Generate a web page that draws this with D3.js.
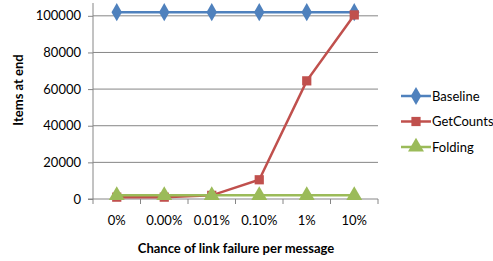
<!DOCTYPE html>
<html><head><meta charset="utf-8">
<script src="https://cdn.jsdelivr.net/npm/d3@7"></script>
<style>body{margin:0;background:#fff}svg{display:block}text{font-family:Lato,"Open Sans",sans-serif}</style>
</head><body><svg id="c" width="493" height="261"></svg>
<script>
const categories = ["0%","0.00%","0.01%","0.10%","1%","10%"];
const baseline = [102000,102000,102000,102000,102000,102000];
const getCounts = [1000,1000,2000,10500,64500,100500];
const folding = [2000,2000,2000,2000,2000,2000];
const yTicks = [0,20000,40000,60000,80000,100000];
const seriesNames = ["Baseline","GetCounts","Folding"];
const colors = ["#4F81BD","#C0504D","#9BBB59"];
const symbols = [d3.symbolDiamond, d3.symbolSquare, d3.symbolTriangle];
const seriesData = [baseline,getCounts,folding];

const svg = d3.select("#c");
const L=93,R=378,T=3,B=199;
const FS=13;
const x = d3.scaleBand().domain(categories).range([L,R]);
const y = d3.scaleLinear().domain([0,107000]).range([B,T]);

svg.append("g").selectAll("line").data(yTicks.slice(1)).join("line")
 .attr("x1",L).attr("x2",R).attr("y1",d=>y(d)).attr("y2",d=>y(d))
 .attr("stroke","#868686").attr("stroke-width",1);

const ya = svg.append("g").attr("transform",`translate(${L},0)`)
 .call(d3.axisLeft(y).tickValues(yTicks).tickSize(5).tickFormat(d3.format("d")));
ya.select(".domain").attr("stroke","#868686").attr("d",`M-5,${B}H0V${T}`);
ya.selectAll(".tick line").attr("stroke","#868686");
ya.selectAll(".tick text").attr("font-size",FS).attr("fill","#000").attr("x",-12).attr("font-family","Lato, 'Open Sans', sans-serif");

const xa = svg.append("g").attr("transform",`translate(0,${B})`)
 .call(d3.axisBottom(x).tickSize(0).tickPadding(17));
xa.select(".domain").attr("stroke","#868686").attr("d",`M${L},0H${R}`);
xa.selectAll(".tick text").attr("font-size",FS).attr("fill","#000").attr("font-family","Lato, 'Open Sans', sans-serif");
const bounds = d3.range(categories.length+1).map(i=>L+i*x.step());
svg.append("g").selectAll("line").data(bounds).join("line")
 .attr("x1",d=>d).attr("x2",d=>d).attr("y1",B).attr("y2",B+5).attr("stroke","#868686");

const cx = d=>x(d)+x.bandwidth()/2;
const line = d3.line().x((d,i)=>cx(categories[i])).y(d=>y(d));
const sizes=[95,85,110];
seriesData.forEach((s,k)=>{
  svg.append("path").datum(s).attr("d",line).attr("fill","none").attr("stroke",colors[k]).attr("stroke-width",2.5);
  svg.append("g").selectAll("path").data(s).join("path")
   .attr("transform",(d,i)=>`translate(${cx(categories[i])},${y(d)})`)
   .attr("d",d3.symbol().type(symbols[k]).size(sizes[k])).attr("fill",colors[k]);
});

const lg = svg.append("g");
seriesNames.forEach((n,k)=>{
  const yy = 96 + k*25.5;
  lg.append("line").attr("x1",401).attr("x2",431).attr("y1",yy).attr("y2",yy).attr("stroke",colors[k]).attr("stroke-width",2.5);
  lg.append("path").attr("transform",`translate(416,${yy})`).attr("d",d3.symbol().type(symbols[k]).size(sizes[k])).attr("fill",colors[k]);
  lg.append("text").attr("x",432).attr("y",yy).attr("dy","0.35em").attr("font-size",FS).text(n);
});

svg.append("text").attr("transform","translate(23,90) rotate(-90)").attr("text-anchor","middle")
 .attr("font-size",FS).attr("font-weight","bold").text("Items at end");
svg.append("text").attr("x",236).attr("y",253).attr("text-anchor","middle")
 .attr("font-size",FS).attr("font-weight","bold").text("Chance of link failure per message");
</script></body></html>
